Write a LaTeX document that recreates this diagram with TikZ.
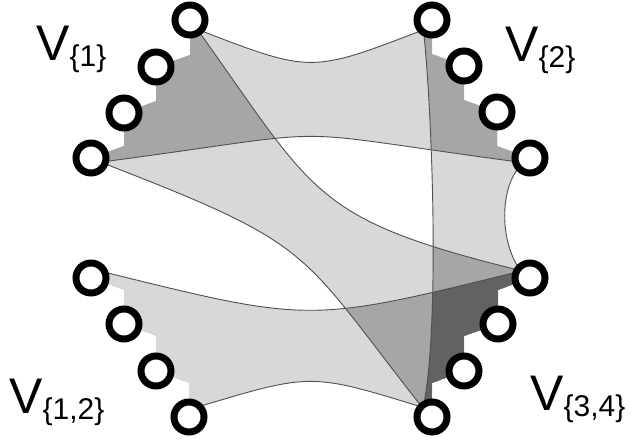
\documentclass[tikz,border=0pt]{standalone}
\usepackage{fontspec}
\setmainfont{Liberation Sans}
\definecolor{eLight}{RGB}{216,216,216}
\definecolor{eMid}{RGB}{166,166,166}
\definecolor{eDark}{RGB}{98,98,98}
\definecolor{eLine}{RGB}{80,80,80}
\newcommand\hyplabel[1]{{\fontsize{50}{50}\selectfont V}{\fontsize{30}{30}\selectfont\raisebox{-6pt}{\{#1\}}}}
\begin{document}
\begin{tikzpicture}[x=1pt,y=-1pt,
  vtx/.style={circle,draw=black,fill=white,line width=7pt,minimum size=30pt,inner sep=0pt},
  hedge/.style={draw=eLine,line width=0.9pt},
  lbl/.style={anchor=base west,inner sep=0pt}]
\useasboundingbox (0,0) rectangle (631,443);
\fill[white] (0,0) rectangle (631,443);
% vertex centres
\coordinate (a1) at (190,20); \coordinate (a2) at (156,67); \coordinate (a3) at (124,113); \coordinate (a4) at (91,158);
\coordinate (b1) at (432,20); \coordinate (b2) at (464,66); \coordinate (b3) at (497,112); \coordinate (b4) at (530,158);
\coordinate (c1) at (91,278); \coordinate (c2) at (124,324); \coordinate (c3) at (156,371); \coordinate (c4) at (189,417);
\coordinate (d1) at (530,278); \coordinate (d2) at (498,324); \coordinate (d3) at (464,371); \coordinate (d4) at (432,417);
% staircase corners
\coordinate (sa1) at (190,55); \coordinate (sa2) at (156,101); \coordinate (sa3) at (124,146);
\coordinate (sb1) at (432,54); \coordinate (sb2) at (464,100); \coordinate (sb3) at (497,146);
\coordinate (sc1) at (124,290); \coordinate (sc2) at (156,336); \coordinate (sc3) at (189,383);
\coordinate (sd1) at (498,290); \coordinate (sd2) at (464,336); \coordinate (sd3) at (432,383);
% curve ends (under the rings)
\coordinate (t1) at (200.6,30.6); \coordinate (t2) at (421.4,30.6);
\coordinate (u1) at (105.6,161.5); \coordinate (u2) at (515.4,161.6);
\coordinate (p1) at (199.1,31.9); \coordinate (p2) at (517.4,269.8);
\coordinate (q1) at (104.8,163.8); \coordinate (q2) at (421.4,406.4);
\coordinate (r1) at (423.7,32.5); \coordinate (r2) at (423.8,404.4);
\coordinate (s1) at (518.7,167.9); \coordinate (s2) at (518.8,268);
\coordinate (w1) at (104.8,272.2); \coordinate (w2) at (516.2,272.2);
\coordinate (z1) at (199.6,406.4); \coordinate (z2) at (421,406.8);
% hyperedge regions
\def\EOne{(a1) -- (p1) .. controls (315.5,194.5) and (312.5,218.9) .. (p2) -- (d1) -- (sd1) -- (d2) -- (sd2) -- (d3) -- (sd3) -- (d4) -- (q2) .. controls (298,249.4) and (318,246.3) .. (q1) -- (a4) -- (sa3) -- (a3) -- (sa2) -- (a2) -- (sa1) -- cycle}
\def\ETwo{(a1) -- (t1) .. controls (311,73) .. (t2) -- (b1) -- (sb1) -- (b2) -- (sb2) -- (b3) -- (sb3) -- (b4) -- (u2) .. controls (265,128) and (357,128) .. (u1) -- (a4) -- (sa3) -- (a3) -- (sa2) -- (a2) -- (sa1) -- cycle}
\def\EThree{(b1) -- (sb1) -- (b2) -- (sb2) -- (b3) -- (sb3) -- (b4) -- (s1) .. controls (500,190) and (500,240) .. (s2) -- (d1) -- (sd1) -- (d2) -- (sd2) -- (d3) -- (sd3) -- (d4) -- (r2) .. controls (440,320) and (432,110) .. (r1) -- cycle}
\def\EFour{(c1) -- (w1) .. controls (310,323) .. (w2) -- (d1) -- (sd1) -- (d2) -- (sd2) -- (d3) -- (sd3) -- (d4) -- (z2) .. controls (311,373) .. (z1) -- (c4) -- (sc3) -- (c3) -- (sc2) -- (c2) -- (sc1) -- cycle}
% single
\fill[eLight] \EOne; \fill[eLight] \ETwo; \fill[eLight] \EThree; \fill[eLight] \EFour;
% pairs
\begin{scope}\clip \EOne; \fill[eMid] \ETwo; \end{scope}
\begin{scope}\clip \EOne; \fill[eMid] \EThree; \end{scope}
\begin{scope}\clip \EOne; \fill[eMid] \EFour; \end{scope}
\begin{scope}\clip \ETwo; \fill[eMid] \EThree; \end{scope}
\begin{scope}\clip \ETwo; \fill[eMid] \EFour; \end{scope}
\begin{scope}\clip \EThree; \fill[eMid] \EFour; \end{scope}
% triples
\begin{scope}\clip \EOne; \clip \EThree; \fill[eDark] \EFour; \end{scope}
\begin{scope}\clip \EOne; \clip \ETwo; \fill[eDark] \EThree; \end{scope}
% boundary curves
\draw[hedge] (t1) .. controls (311,73) .. (t2);
\draw[hedge] (u1) .. controls (357,128) and (265,128) .. (u2);
\draw[hedge] (p1) .. controls (315.5,194.5) and (312.5,218.9) .. (p2);
\draw[hedge] (q1) .. controls (318,246.3) and (298,249.4) .. (q2);
\draw[hedge] (r1) .. controls (432,110) and (440,320) .. (r2);
\draw[hedge] (s1) .. controls (500,190) and (500,240) .. (s2);
\draw[hedge] (w1) .. controls (310,323) .. (w2);
\draw[hedge] (z1) .. controls (311,373) .. (z2);
% vertices
\foreach \v in {a1,a2,a3,a4,b1,b2,b3,b4,c1,c2,c3,c4,d1,d2,d3,d4}
  \node[vtx] (N\v) at (\v) {};
% labels
\node[lbl] (L1) at (36,61) {\hyplabel{1}};
\node[lbl] (L2) at (505,62) {\hyplabel{2}};
\node[lbl] (L12) at (9,413) {\hyplabel{1,2}};
\node[lbl] (L34) at (530,410) {\hyplabel{3,4}};
\end{tikzpicture}
\end{document}
